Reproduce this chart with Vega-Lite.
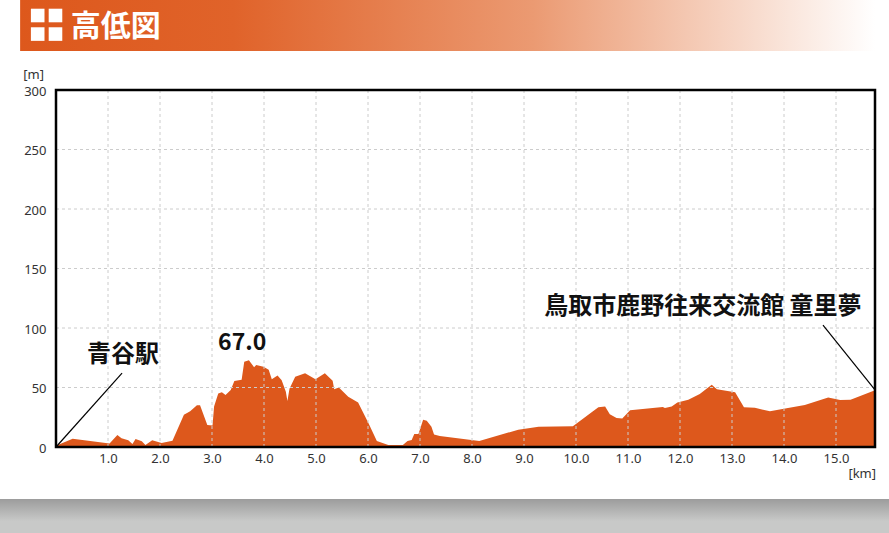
{
"$schema":"https://vega.github.io/schema/vega-lite/v6.json",
"width":819,"height":357,
"autosize":{"type":"none"},
"padding":{"left":56,"top":90,"right":14,"bottom":86},
"background":"#ffffff",
"config":{"view":{"stroke":null}},
"encoding":{
 "x":{"field":"km","type":"quantitative","title":null,"scale":{"domain":[0,15.75],"nice":false,"zero":false},
  "axis":{"values":[1,2,3,4,5,6,7,8,9,10,11,12,13,14,15],"format":".1f","grid":false,"domain":false,"ticks":false,"labelFont":"Noto Sans","labelFontSize":13,"labelColor":"#333333","labelPadding":5}},
 "y":{"field":"m","type":"quantitative","title":null,"scale":{"domain":[0,300],"nice":false},
  "axis":{"values":[0,50,100,150,200,250,300],"grid":false,"domain":false,"ticks":false,"labelFont":"Noto Sans","labelFontSize":13,"labelColor":"#333333","labelPadding":10,"labelOffset":1}}
},
"layer":[
 {"data":{"values":[{"km":-1.08,"km2":16.02,"m":-43.7,"m2":-72.3}]},
  "mark":{"type":"rect","color":{"gradient":"linear","x1":0,"y1":0,"x2":0,"y2":1,"stops":[{"offset":0,"color":"#9c9c9c"},{"offset":0.65,"color":"#c8c9c8"},{"offset":1,"color":"#c8c9c8"}]}},
  "encoding":{"x2":{"field":"km2"},"y2":{"field":"m2"}}},
 {"data":{"values":[{"km":-0.69,"km2":15.75,"m":332.8,"m2":375.6}]},
  "mark":{"type":"rect","color":{"gradient":"linear","x1":0,"y1":0,"x2":1,"y2":0,"stops":[{"offset":0,"color":"#dd581c"},{"offset":0.25,"color":"#e0632a"},{"offset":0.6,"color":"#eb9a72"},{"offset":1,"color":"#ffffff"}]}},
  "encoding":{"x2":{"field":"km2"},"y2":{"field":"m2"}}},
 {"data":{"values":[{"km":-0.352,"m":362.6},{"km":-0.01,"m":362.6},{"km":-0.352,"m":347},{"km":-0.01,"m":347}]},
  "mark":{"type":"square","color":"#ffffff","opacity":1,"size":185}},
 {"data":{"values":[{"km":1.15,"m":353,"label":"高低図"}]},
  "mark":{"type":"text","font":"Noto Sans CJK JP","fontWeight":"bold","fontSize":30,"color":"#ffffff","align":"center","baseline":"middle"},
  "encoding":{"text":{"field":"label"}}},
 {"data":{"values":[
  {"km":0,"m":1},{"km":0.32,"m":7},{"km":1.03,"m":3},{"km":1.18,"m":10},{"km":1.26,"m":7.3},{"km":1.39,"m":5.6},{"km":1.47,"m":2.5},{"km":1.53,"m":6.7},{"km":1.65,"m":4.8},{"km":1.72,"m":1.7},{"km":1.85,"m":5.6},{"km":2.03,"m":3.4},{"km":2.24,"m":5.3},{"km":2.46,"m":27},{"km":2.58,"m":30},{"km":2.71,"m":35},{"km":2.77,"m":35},{"km":2.91,"m":18.5},{"km":3.01,"m":18},{"km":3.04,"m":34},{"km":3.12,"m":45},{"km":3.19,"m":46},{"km":3.26,"m":43.7},{"km":3.36,"m":48},{"km":3.43,"m":55.5},{"km":3.57,"m":56.6},{"km":3.62,"m":71.7},{"km":3.71,"m":72.8},{"km":3.81,"m":67},{"km":3.85,"m":69},{"km":3.99,"m":67.5},{"km":4.09,"m":65},{"km":4.15,"m":57},{"km":4.26,"m":60},{"km":4.34,"m":56},{"km":4.42,"m":46.5},{"km":4.45,"m":38.7},{"km":4.49,"m":49},{"km":4.6,"m":59},{"km":4.79,"m":62},{"km":4.99,"m":57},{"km":5.17,"m":62},{"km":5.32,"m":55.7},{"km":5.35,"m":48.5},{"km":5.44,"m":50},{"km":5.62,"m":42.3},{"km":5.81,"m":37.5},{"km":6.01,"m":20},{"km":6.17,"m":5},{"km":6.39,"m":1.7},{"km":6.67,"m":1.7},{"km":6.76,"m":5},{"km":6.84,"m":5.9},{"km":6.89,"m":11},{"km":6.97,"m":11},{"km":7.06,"m":23},{"km":7.13,"m":22},{"km":7.22,"m":17},{"km":7.27,"m":10.4},{"km":7.38,"m":9.3},{"km":8.14,"m":5},{"km":8.89,"m":14.6},{"km":9.28,"m":17},{"km":9.94,"m":17.4},{"km":10.43,"m":33.3},{"km":10.56,"m":34},{"km":10.65,"m":27.5},{"km":10.78,"m":24.4},{"km":10.89,"m":24},{"km":11.04,"m":30.8},{"km":11.67,"m":33.6},{"km":11.71,"m":32.8},{"km":11.84,"m":34},{"km":11.95,"m":37.5},{"km":12.16,"m":39.8},{"km":12.38,"m":44.5},{"km":12.61,"m":52.4},{"km":12.71,"m":48.5},{"km":13.06,"m":46},{"km":13.23,"m":33.3},{"km":13.44,"m":33},{"km":13.73,"m":30},{"km":14.05,"m":32.5},{"km":14.4,"m":35.3},{"km":14.85,"m":41.7},{"km":15.08,"m":39.5},{"km":15.28,"m":39.8},{"km":15.75,"m":47.6}
 ]},
  "mark":{"type":"area","color":"#dd581c","interpolate":"linear"}},
 {"data":{"values":[{"km":1},{"km":2},{"km":3},{"km":4},{"km":5},{"km":6},{"km":7},{"km":8},{"km":9},{"km":10},{"km":11},{"km":12},{"km":13},{"km":14},{"km":15}]},
  "mark":{"type":"rule","color":"#cccccc","strokeWidth":1,"strokeDash":[3,3]},
  "encoding":{"y":{"value":0},"y2":{"value":357}}},
 {"data":{"values":[{"m":50},{"m":100},{"m":150},{"m":200},{"m":250}]},
  "mark":{"type":"rule","color":"#cccccc","strokeWidth":1,"strokeDash":[3,3]},
  "encoding":{"x":{"value":0},"x2":{"value":819}}},
 {"data":{"values":[{"km":0,"km2":15.75,"m":0,"m2":300}]},
  "mark":{"type":"rect","fill":null,"stroke":"#000000","strokeWidth":2.5},
  "encoding":{"x2":{"field":"km2"},"y2":{"field":"m2"}}},
 {"data":{"values":[{"km":0,"km2":1.27,"m":0,"m2":62},{"km":15.75,"km2":14.75,"m":48,"m2":102.5}]},
  "mark":{"type":"rule","color":"#000000","strokeWidth":1.2},
  "encoding":{"x2":{"field":"km2"},"y2":{"field":"m2"}}},
 {"data":{"values":[{"km":1.29,"m":77,"label":"青谷駅"},{"km":12.44,"m":117.6,"label":"鳥取市鹿野往来交流館 童里夢"}]},
  "mark":{"type":"text","font":"Noto Sans CJK JP","fontWeight":"bold","fontSize":24,"color":"#111111","align":"center","baseline":"middle"},
  "encoding":{"text":{"field":"label"}}},
 {"data":{"values":[{"km":3.58,"m":87,"label":"67.0"}]},
  "mark":{"type":"text","font":"Noto Sans CJK JP","fontWeight":"bold","fontSize":23,"color":"#111111","align":"center","baseline":"middle"},
  "encoding":{"text":{"field":"label"}}},
 {"data":{"values":[{"km":-0.23,"m":313,"label":"[m]"}]},
  "mark":{"type":"text","font":"Noto Sans","fontSize":13,"color":"#333333","align":"right","baseline":"middle"},
  "encoding":{"text":{"field":"label"}}},
 {"data":{"values":[{"km":15.77,"m":-23,"label":"[km]"}]},
  "mark":{"type":"text","font":"Noto Sans","fontSize":13,"color":"#333333","align":"right","baseline":"middle"},
  "encoding":{"text":{"field":"label"}}}
]
}
